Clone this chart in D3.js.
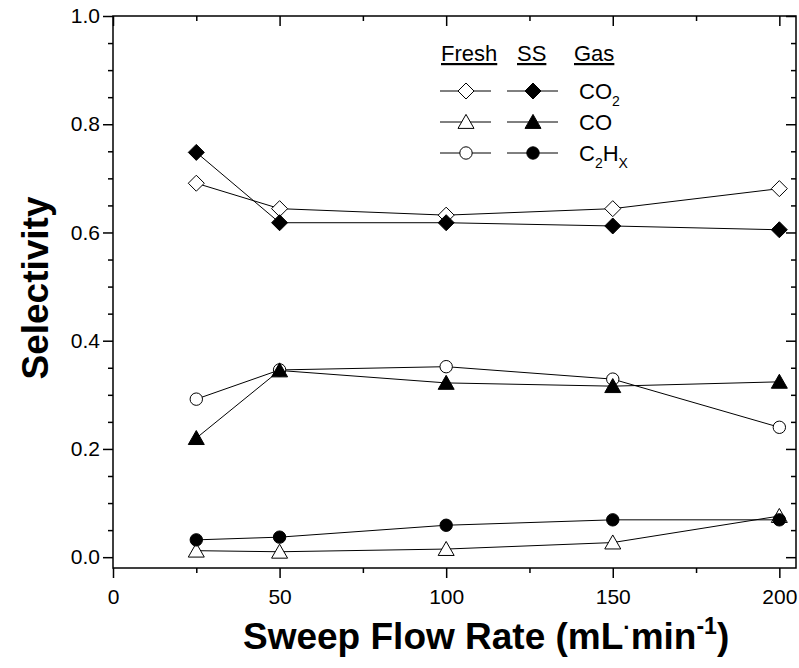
<!DOCTYPE html>
<html>
<head>
<meta charset="utf-8">
<script src="https://cdn.jsdelivr.net/npm/d3@7"></script>
<style>
  body { margin: 0; background: #fff; }
  text { font-family: "Liberation Sans", Arial, sans-serif; }
</style>
</head>
<body>
<div id="chart"></div>
<script>
// sweep flow rates (mL/min)
let flow = [25, 50, 100, 150, 200];

// selectivity
let freshCO2  = [0.691, 0.644, 0.632, 0.644, 0.681];
let ssCO2     = [0.748, 0.618, 0.618, 0.612, 0.605];
let freshCO   = [0.012, 0.010, 0.015, 0.027, 0.076];
let ssCO      = [0.220, 0.345, 0.322, 0.316, 0.324];
let freshC2Hx = [0.292, 0.346, 0.352, 0.329, 0.240];
let ssC2Hx    = [0.032, 0.037, 0.059, 0.069, 0.069];

let xTicks = [0, 50, 100, 150, 200];
let xMinor = [25, 75, 125, 175];
let yTicks = [0, 0.2, 0.4, 0.6, 0.8, 1.0];
let yMinor = [0.05, 0.1, 0.15, 0.25, 0.3, 0.35, 0.45, 0.5, 0.55, 0.65, 0.7, 0.75, 0.85, 0.9, 0.95];

let W = 799, H = 668;
let margin = {top: 16, right: 3, bottom: 100, left: 113};
let font = "'Liberation Sans', Arial, sans-serif";

let x = d3.scaleLinear().domain([0, 205]).range([margin.left, W - margin.right]);
let y = d3.scaleLinear().domain([-0.02, 1.0]).range([H - margin.bottom, margin.top]);

let svg = d3.select("#chart").append("svg")
    .attr("width", W)
    .attr("height", H);

// custom marker shapes
let diamond = {draw: function(ctx, r){
    ctx.moveTo(0, -r); ctx.lineTo(r, 0); ctx.lineTo(0, r); ctx.lineTo(-r, 0); ctx.closePath();
}};
let triangle = {draw: function(ctx, r){
    ctx.moveTo(0, -r * 0.95); ctx.lineTo(r, r * 0.8); ctx.lineTo(-r, r * 0.8); ctx.closePath();
}};
let circle = {draw: function(ctx, r){
    ctx.moveTo(r, 0); ctx.arc(0, 0, r, 0, 2 * Math.PI);
}};

let series = [
    {vals: freshCO2,  shape: diamond,  size: 8,   fill: "#fff"},
    {vals: freshCO,   shape: triangle, size: 8,   fill: "#fff"},
    {vals: freshC2Hx, shape: circle,   size: 6.2, fill: "#fff"},
    {vals: ssCO2,     shape: diamond,  size: 8,   fill: "#000"},
    {vals: ssCO,      shape: triangle, size: 8,   fill: "#000"},
    {vals: ssC2Hx,    shape: circle,   size: 6.2, fill: "#000"}
];

// axes
function styleAxis(g){
    g.select(".domain").remove();
    g.selectAll("line").attr("stroke", "#000").attr("stroke-width", 1.5);
    g.selectAll("text").style("font-size", "21px").attr("fill", "#000")
        .style("font-family", font);
}
let y0 = H - margin.bottom;

svg.append("g").attr("transform", "translate(0," + y0 + ")")
    .call(d3.axisBottom(x).tickValues(xTicks).tickSize(10).tickPadding(11).tickFormat(d3.format("d")))
    .call(styleAxis);
svg.append("g").attr("transform", "translate(0," + y0 + ")")
    .call(d3.axisBottom(x).tickValues(xMinor).tickSize(5).tickFormat(""))
    .call(styleAxis);
svg.append("g").attr("transform", "translate(0," + margin.top + ")")
    .call(d3.axisTop(x).tickValues(xTicks).tickSize(-10).tickFormat(""))
    .call(styleAxis);
svg.append("g").attr("transform", "translate(0," + margin.top + ")")
    .call(d3.axisTop(x).tickValues(xMinor).tickSize(-5).tickFormat(""))
    .call(styleAxis);

svg.append("g").attr("transform", "translate(" + margin.left + ",0)")
    .call(d3.axisLeft(y).tickValues(yTicks).tickSize(10).tickPadding(3).tickFormat(d3.format(".1f")))
    .call(styleAxis);
svg.append("g").attr("transform", "translate(" + margin.left + ",0)")
    .call(d3.axisLeft(y).tickValues(yMinor).tickSize(5).tickFormat(""))
    .call(styleAxis);
svg.append("g").attr("transform", "translate(" + (W - margin.right) + ",0)")
    .call(d3.axisRight(y).tickValues(yTicks).tickSize(-10).tickFormat(""))
    .call(styleAxis);
svg.append("g").attr("transform", "translate(" + (W - margin.right) + ",0)")
    .call(d3.axisRight(y).tickValues(yMinor).tickSize(-5).tickFormat(""))
    .call(styleAxis);

svg.append("rect")
    .attr("x", margin.left).attr("y", margin.top)
    .attr("width", W - margin.right - margin.left)
    .attr("height", y0 - margin.top)
    .attr("fill", "none").attr("stroke", "#000").attr("stroke-width", 1.5);

// lines first, then markers
let line = d3.line()
    .x(function(d, i){ return x(flow[i]); })
    .y(function(d){ return y(d); });

series.forEach(function(s){
    svg.append("path")
        .datum(s.vals)
        .attr("d", line)
        .attr("fill", "none")
        .attr("stroke", "#000")
        .attr("stroke-width", 1);
});

series.forEach(function(s){
    svg.append("g").selectAll("path")
        .data(s.vals)
        .join("path")
        .attr("transform", function(d, i){ return "translate(" + x(flow[i]) + "," + y(d) + ")"; })
        .attr("d", d3.symbol().type(s.shape).size(s.size))
        .attr("fill", s.fill)
        .attr("stroke", "#000")
        .attr("stroke-width", 1);
});

// axis titles
svg.append("text")
    .attr("transform", "translate(48,288) rotate(-90)")
    .attr("text-anchor", "middle")
    .style("font-size", "37px").style("font-weight", "bold")
    .text("Selectivity");

let xt = svg.append("text")
    .attr("x", 243)
    .attr("y", 649)
    .style("font-size", "37px").style("font-weight", "bold");
xt.append("tspan").text("Sweep Flow Rate (mL");
xt.append("tspan").attr("dy", -14).style("font-size", "22px").text("·");
xt.append("tspan").attr("dy", 14).text("min");
xt.append("tspan").attr("dy", -15).style("font-size", "23px").text("-1");
xt.append("tspan").attr("dy", 15).text(")");

// legend
let leg = svg.append("g");
let headers = [{t: "Fresh", x: 441}, {t: "SS", x: 517}, {t: "Gas", x: 574}];
headers.forEach(function(h){
    leg.append("text").attr("x", h.x).attr("y", 61)
        .style("font-size", "22px").style("text-decoration", "underline").text(h.t);
});

let rows = [
    {y: 91,  shape: diamond,  size: 8,   name: "CO", sub: "2"},
    {y: 122, shape: triangle, size: 8,   name: "CO", sub: ""},
    {y: 153, shape: circle,   size: 6.2, name: "C", sub: "2", name2: "H", sub2: "X"}
];
rows.forEach(function(r){
    [{x: 466, fill: "#fff"}, {x: 533, fill: "#000"}].forEach(function(c){
        leg.append("line").attr("x1", c.x - 26).attr("x2", c.x + 25)
            .attr("y1", r.y).attr("y2", r.y).attr("stroke", "#000").attr("stroke-width", 1);
        leg.append("path")
            .attr("transform", "translate(" + c.x + "," + r.y + ")")
            .attr("d", d3.symbol().type(r.shape).size(r.size))
            .attr("fill", c.fill).attr("stroke", "#000").attr("stroke-width", 1);
    });
    let t = leg.append("text").attr("x", 579).attr("y", r.y + 8).style("font-size", "22px");
    t.append("tspan").text(r.name);
    if (r.sub) t.append("tspan").attr("dy", 7).style("font-size", "14px").text(r.sub);
    if (r.name2) {
        t.append("tspan").attr("dy", -7).text(r.name2);
        t.append("tspan").attr("dy", 7).style("font-size", "14px").text(r.sub2);
    }
});
</script>
</body>
</html>
